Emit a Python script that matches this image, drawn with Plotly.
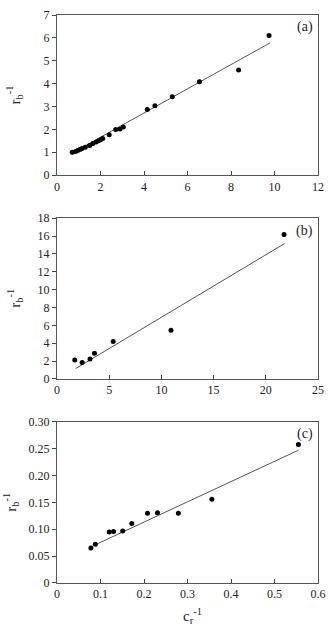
import plotly.graph_objects as go

# Panel (a)
a_x = [0.7, 0.85, 0.95, 1.05, 1.15, 1.3, 1.5, 1.65, 1.8, 1.9, 2.0, 2.1, 2.4, 2.7, 2.9, 3.05, 4.15, 4.5, 5.3, 6.55, 8.35, 9.75]
a_y = [1.0, 1.03, 1.08, 1.12, 1.17, 1.22, 1.3, 1.38, 1.45, 1.5, 1.55, 1.6, 1.77, 2.0, 2.02, 2.1, 2.87, 3.03, 3.43, 4.08, 4.6, 6.1]
a_fit_x = [0.7, 9.8]
a_fit_slope, a_fit_icpt = 0.529, 0.6

# Panel (b)
b_x = [1.7, 2.41, 3.16, 3.59, 5.38, 10.92, 21.75]
b_y = [2.1, 1.82, 2.23, 2.86, 4.19, 5.46, 16.18]
b_fit_x = [1.79, 21.8]
b_fit_slope, b_fit_icpt = 0.70, -0.1

# Panel (c)
c_x = [0.078, 0.088, 0.12, 0.13, 0.151, 0.172, 0.208, 0.231, 0.279, 0.356, 0.555]
c_y = [0.065, 0.072, 0.095, 0.096, 0.097, 0.111, 0.130, 0.131, 0.130, 0.156, 0.258]
c_fit_x = [0.085, 0.555]
c_fit_slope, c_fit_icpt = 0.377, 0.038

panels = [
    dict(x=a_x, y=a_y, fx=a_fit_x, m=a_fit_slope, b=a_fit_icpt, label="(a)",
         xr=[0, 12], xt=[0, 2, 4, 6, 8, 10, 12], xl=["0", "2", "4", "6", "8", "10", "12"],
         yr=[0, 7], yt=[0, 1, 2, 3, 4, 5, 6, 7], yl=["0", "1", "2", "3", "4", "5", "6", "7"],
         dom=[0.718, 1.0], ytx=13),
    dict(x=b_x, y=b_y, fx=b_fit_x, m=b_fit_slope, b=b_fit_icpt, label="(b)",
         xr=[0, 25], xt=[0, 5, 10, 15, 20, 25], xl=["0", "5", "10", "15", "20", "25"],
         yr=[0, 18], yt=[0, 2, 4, 6, 8, 10, 12, 14, 16, 18],
         yl=["0", "2", "4", "6", "8", "10", "12", "14", "16", "18"],
         dom=[0.3594, 0.6422], ytx=13),
    dict(x=c_x, y=c_y, fx=c_fit_x, m=c_fit_slope, b=c_fit_icpt, label="(c)",
         xr=[0, 0.6], xt=[0, 0.1, 0.2, 0.3, 0.4, 0.5, 0.6],
         xl=["0", "0.1", "0.2", "0.3", "0.4", "0.5", "0.6"],
         yr=[0, 0.30], yt=[0, 0.05, 0.10, 0.15, 0.20, 0.25, 0.30],
         yl=["0", "0.05", "0.10", "0.15", "0.20", "0.25", "0.30"],
         dom=[0.0, 0.2837], ytx=10),
]

FONT = "Liberation Serif"
COL = "#222222"
fig = go.Figure()
L, R, T, B = 57, 8, 13, 47
W, H = 334, 630
pw = W - L - R

annotations = []
for i, p in enumerate(panels):
    n = "" if i == 0 else str(i + 1)
    xa, ya = "x" + n, "y" + n
    fy = [p["m"] * v + p["b"] for v in p["fx"]]
    fig.add_trace(go.Scatter(x=p["fx"], y=fy, mode="lines", xaxis=xa, yaxis=ya,
                             line=dict(color="#555555", width=1), showlegend=False))
    fig.add_trace(go.Scatter(x=p["x"], y=p["y"], mode="markers", xaxis=xa, yaxis=ya,
                             marker=dict(color="black", size=5), showlegend=False))
    axcommon = dict(showline=True, linecolor="#555555", linewidth=1, mirror=True,
                    ticklen=4, tickcolor="#444444", showgrid=False,
                    zeroline=False, tickfont=dict(family=FONT, size=12, color=COL))
    fig.layout["xaxis" + n] = dict(domain=[0, 1], range=p["xr"], tickvals=p["xt"], ticktext=p["xl"],
                                   anchor=ya, ticks="inside", **axcommon)
    fig.layout["yaxis" + n] = dict(domain=p["dom"], range=p["yr"], tickvals=p["yt"], ticktext=p["yl"],
                                   anchor=xa, ticks="outside", **axcommon)
    annotations.append(dict(text=p["label"], xref=xa + " domain", yref=ya + " domain",
                            x=0.99, y=0.985, xanchor="right", yanchor="top", showarrow=False,
                            font=dict(family=FONT, size=14, color=COL)))
    annotations.append(dict(text="r<sub>b</sub><sup>-1</sup>", xref="paper", yref=ya + " domain",
                            x=(p["ytx"] - L) / pw, y=0.5, xanchor="center", yanchor="middle",
                            textangle=-90, showarrow=False,
                            font=dict(family=FONT, size=15, color=COL)))

annotations.append(dict(text="c<sub>r</sub><sup>-1</sup>", xref="paper", yref="paper",
                        x=(197 - L) / pw, y=-(616 - (H - B)) / (H - T - B), xanchor="center",
                        yanchor="middle", showarrow=False, font=dict(family=FONT, size=15, color=COL)))

fig.update_layout(width=W, height=H, margin=dict(l=L, r=R, t=T, b=B),
                  plot_bgcolor="white", paper_bgcolor="white", annotations=annotations)
fig.write_html("out.html")
